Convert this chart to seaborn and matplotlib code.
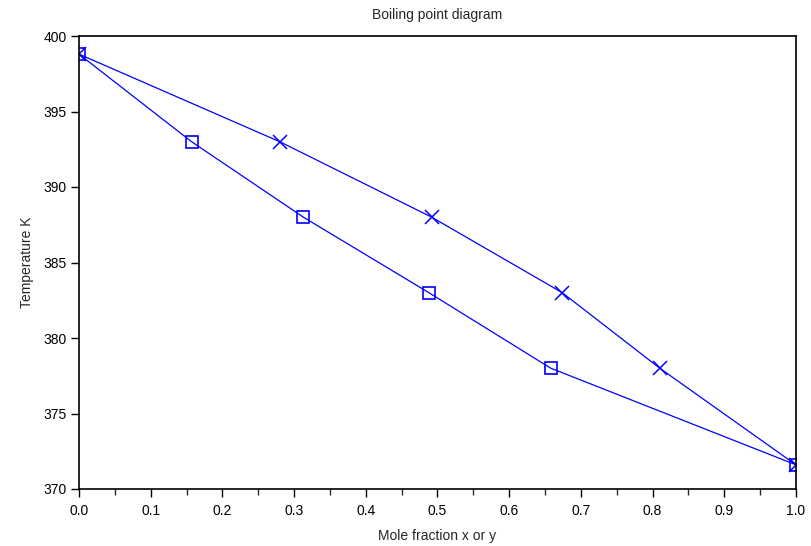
import numpy as np
import pandas as pd
import seaborn as sns
import matplotlib
matplotlib.use("Agg")
import matplotlib.pyplot as plt
from matplotlib.ticker import MultipleLocator

# boiling point diagram, liquid (x) and vapour (y) compositions
temps = [398.8, 393.0, 388.0, 383.0, 378.0, 371.6]
x_liquid = [0.0, 0.157, 0.313, 0.488, 0.658, 1.0]
y_vapour = [0.0, 0.280, 0.492, 0.674, 0.810, 1.0]

sns.set_style("white")
plt.rcParams['font.family'] = ['Liberation Sans Narrow', 'Liberation Sans', 'DejaVu Sans']

fig = plt.figure(figsize=(8.12, 5.46), dpi=100)
ax = fig.add_axes([79 / 812, 1 - 489 / 546, (796 - 79) / 812, (489 - 36) / 546])

blue = "#0000ff"
liq = pd.DataFrame({"x": x_liquid, "T": temps})
vap = pd.DataFrame({"x": y_vapour, "T": temps})
sns.lineplot(data=liq, x="x", y="T", sort=False, ax=ax, color=blue, lw=0.9,
             marker="s", markersize=8.5, markerfacecolor="none",
             markeredgecolor=blue, markeredgewidth=1.2)
sns.lineplot(data=vap, x="x", y="T", sort=False, ax=ax, color=blue, lw=0.9,
             marker="x", markersize=9.5, markeredgecolor=blue,
             markeredgewidth=1.1)

ax.set_xlim(0, 1)
ax.set_ylim(370, 400)
ax.xaxis.set_major_locator(MultipleLocator(0.1))
ax.xaxis.set_minor_locator(MultipleLocator(0.05))
ax.yaxis.set_major_locator(MultipleLocator(5))
ax.set_xticklabels([f"{v:.1f}" for v in ax.get_xticks()])
ax.tick_params(which="major", direction="out", length=6, width=1, labelsize=10,
               bottom=True, left=True, colors="black", pad=3)
ax.tick_params(axis="x", which="major", pad=5)
ax.tick_params(which="minor", direction="out", length=4, width=1, bottom=True)
for s in ax.spines.values():
    s.set_color("black")
    s.set_linewidth(1.2)

ax.set_xlabel("Mole fraction x or y", fontsize=10, labelpad=8)
ax.set_ylabel("Temperature K", fontsize=10, labelpad=7)
ax.set_title("Boiling point diagram", fontsize=10, pad=12)

fig.savefig("out.png", dpi=100)
